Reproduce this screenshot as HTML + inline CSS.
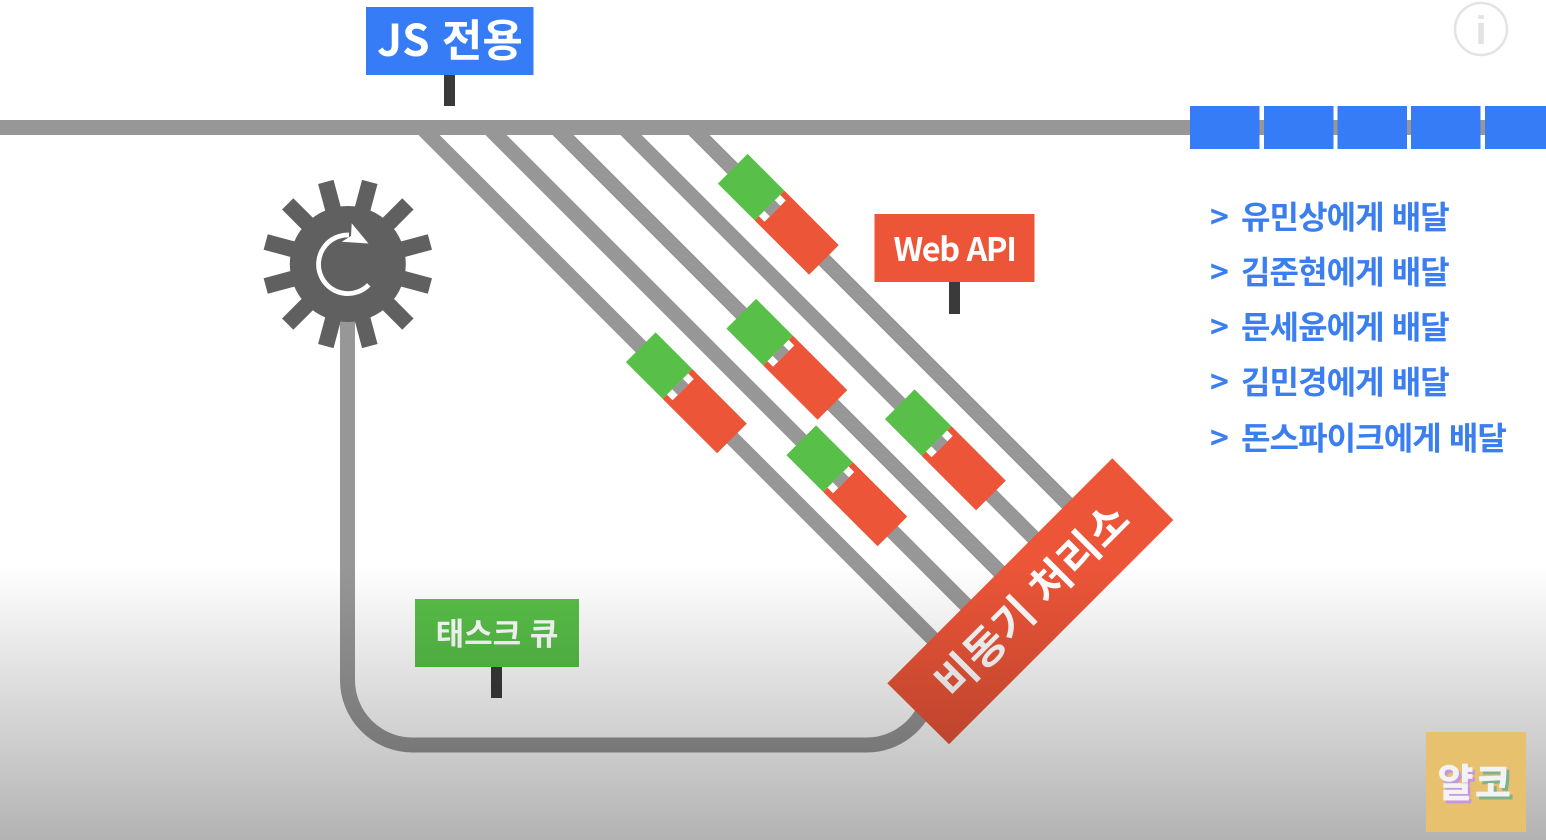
<!DOCTYPE html>
<html lang="ko"><head><meta charset="utf-8"><title>diagram</title>
<style>
html,body{margin:0;padding:0;background:#fff;width:1546px;height:840px;overflow:hidden}
svg{display:block}
text{font-family:"Noto Sans CJK KR","Liberation Sans",sans-serif}
</style></head><body>
<svg width="1546" height="840" viewBox="0 0 1546 840" xmlns="http://www.w3.org/2000/svg">
<defs>
<linearGradient id="ov" x1="0" y1="0" x2="0" y2="1">
<stop offset="0" stop-color="#000" stop-opacity="0"/>
<stop offset="1" stop-color="#000" stop-opacity=".3"/>
</linearGradient>
<g id="b">
<rect x="0" y="-21" width="77" height="42" fill="#ec5538"/>
<rect x="0" y="-15" width="8" height="30" fill="#fff"/>
<rect x="0" y="-7.5" width="8" height="15" fill="#979797"/>
<rect x="-52" y="-21" width="52" height="42" fill="#58c048"/>
</g>
</defs>
<rect width="1546" height="840" fill="#fff"/>
<!-- tracks -->
<rect x="0" y="120" width="1200" height="15" fill="#979797"/>
<rect x="1255" y="120" width="240" height="15" fill="#979797"/>
<g stroke="#979797" stroke-width="15" fill="none">
<path d="M424 130L960 666"/>
<path d="M491 130L1000 639"/>
<path d="M558 130L1030 602"/>
<path d="M626 130L1060 564"/>
<path d="M694 130L1090 526"/>
<path d="M347.5 315V680A65 65 0 0 0 412.5 745H865A65 65 0 0 0 925 708"/>
</g>
<!-- packets -->
<use href="#b" transform="translate(769.5 205.5) rotate(45)"/>
<use href="#b" transform="translate(778 350.5) rotate(45)"/>
<use href="#b" transform="translate(677.5 384) rotate(45)"/>
<use href="#b" transform="translate(838 477) rotate(45)"/>
<use href="#b" transform="translate(936.5 441) rotate(45)"/>
<!-- processor -->
<polygon points="1112.3,458.3 1173.3,520 949,744.3 887.3,683.3" fill="#ec5538"/>
<text transform="translate(1043 611) rotate(-45)" text-anchor="middle" fill="#fff" font-size="43" font-weight="700" letter-spacing="0.5">비동기 처리소</text>
<!-- gear -->
<g fill="#606060" transform="translate(347.8 264)">
<circle r="58"/>
<rect x="-8" y="-85" width="16" height="40" transform="rotate(15)"/>
<rect x="-8" y="-85" width="16" height="40" transform="rotate(45)"/>
<rect x="-8" y="-85" width="16" height="40" transform="rotate(75)"/>
<rect x="-8" y="-85" width="16" height="40" transform="rotate(105)"/>
<rect x="-8" y="-85" width="16" height="40" transform="rotate(135)"/>
<rect x="-8" y="-85" width="16" height="40" transform="rotate(165)"/>
<rect x="-8" y="-85" width="16" height="40" transform="rotate(195)"/>
<rect x="-8" y="-85" width="16" height="40" transform="rotate(225)"/>
<rect x="-8" y="-85" width="16" height="40" transform="rotate(255)"/>
<rect x="-8" y="-85" width="16" height="40" transform="rotate(285)"/>
<rect x="-8" y="-85" width="16" height="40" transform="rotate(315)"/>
<rect x="-8" y="-85" width="16" height="40" transform="rotate(345)"/>
</g>
<rect x="340" y="322" width="15" height="30" fill="#979797"/>
<path d="M349 235.03A29.3 29.3 0 1 0 368.8 284.8" fill="none" stroke="#fff" stroke-width="4.8"/>
<polygon points="351.7,223.3 368.5,243.5 341.7,241.7 351,236" fill="#fff"/>
<!-- labels -->
<rect x="444" y="70" width="11" height="36" fill="#3a3a3a"/>
<rect x="366" y="7" width="167.500" height="68" fill="#367cf7"/>
<text x="450" y="56" text-anchor="middle" fill="#fff" font-size="44" font-weight="700">JS 전용</text>
<rect x="949" y="278" width="11" height="36" fill="#3a3a3a"/>
<rect x="874.500" y="214" width="160" height="68" fill="#ec5538"/>
<text x="954.500" y="261" text-anchor="middle" fill="#fff" font-size="32.500" font-weight="700" letter-spacing="-1.4">Web API</text>
<rect x="491" y="662" width="11" height="36" fill="#3a3a3a"/>
<rect x="415" y="599" width="164" height="68" fill="#58c048"/>
<text x="497" y="645" text-anchor="middle" fill="#fff" font-size="31" font-weight="700">태스크 큐</text>
<!-- queue -->
<g fill="#367cf7">
<rect x="1190" y="106" width="69.500" height="43"/>
<rect x="1264" y="106" width="69.500" height="43"/>
<rect x="1337.500" y="106" width="69.500" height="43"/>
<rect x="1411" y="106" width="69.500" height="43"/>
<rect x="1485" y="106" width="61" height="43"/>
</g>
<!-- list -->
<g fill="#3a7ef0" font-size="32" font-weight="700" letter-spacing="-0.9">
<text x="1210" y="228.500">&gt;</text><text x="1241" y="228.500">유민상에게 배달</text>
<text x="1210" y="283.500">&gt;</text><text x="1241" y="283.500">김준현에게 배달</text>
<text x="1210" y="338.500">&gt;</text><text x="1241" y="338.500">문세윤에게 배달</text>
<text x="1210" y="393.500">&gt;</text><text x="1241" y="393.500">김민경에게 배달</text>
<text x="1210" y="449.500">&gt;</text><text x="1241" y="449.500">돈스파이크에게 배달</text>
</g>
<!-- info -->
<circle cx="1481" cy="29" r="26" fill="none" stroke="#e3e3e3" stroke-width="2.500"/>
<text x="1481" y="44" text-anchor="middle" fill="#e3e3e3" font-size="40" font-weight="700" style="font-family:'Liberation Sans',sans-serif">i</text>
<!-- bottom shade -->
<rect x="0" y="565" width="1546" height="275" fill="url(#ov)"/>
<!-- logo -->
<rect x="1426" y="732" width="100" height="100" fill="#e8c16e"/>
<g font-size="39" font-weight="700" text-anchor="middle">
<text x="1458" y="800" fill="#c597e0" stroke="#c597e0" stroke-width=".6">얄</text>
<text x="1455.500" y="797" fill="#f3f3f3" stroke="#f3f3f3" stroke-width=".6">얄</text>
<text x="1496" y="800" fill="#7db28c" stroke="#7db28c" stroke-width=".6">코</text>
<text x="1493" y="797" fill="#f3f3f3" stroke="#f3f3f3" stroke-width=".6">코</text>
</g>
</svg>
</body></html>
